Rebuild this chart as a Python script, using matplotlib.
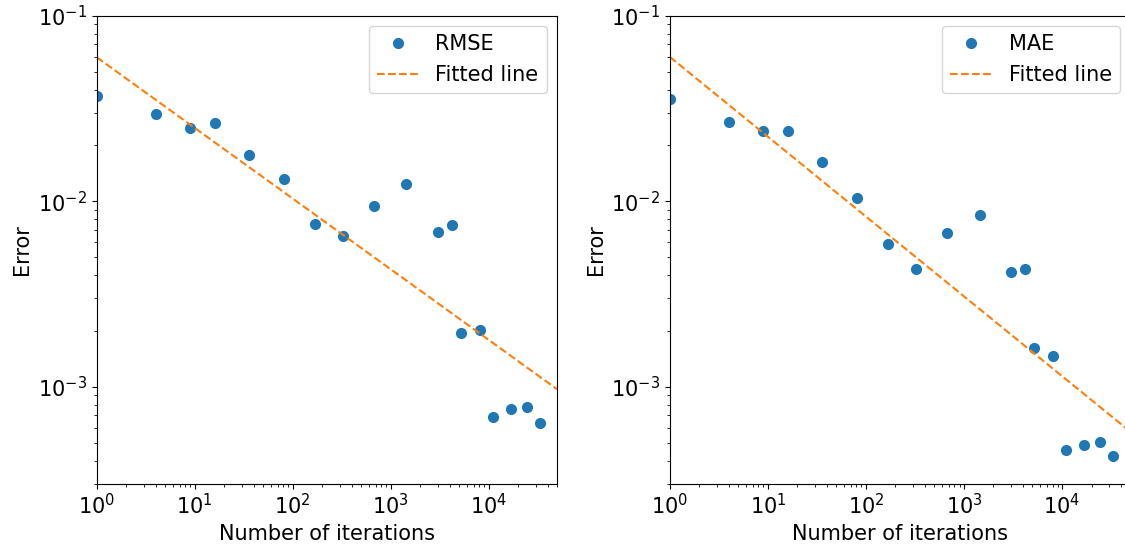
import numpy as np
import matplotlib
matplotlib.use("Agg")
import matplotlib.pyplot as plt

plt.rcParams['font.size'] = 15

# iteration counts shared by both error curves
iterations = [1, 4, 9, 16, 36, 81, 169, 324, 676, 1444, 3025, 4225,
              5184, 8100, 11025, 16900, 24649, 33124]

rmse = [0.0368, 0.0296, 0.0249, 0.0264, 0.0178, 0.0131, 0.00757, 0.0065,
        0.00937, 0.01236, 0.00682, 0.00744, 0.00196, 0.00201, 0.000689,
        0.00076, 0.00078, 0.000637]

mae = [0.0356, 0.0268, 0.0238, 0.0238, 0.0163, 0.0104, 0.00591, 0.00429,
       0.00673, 0.00838, 0.00416, 0.00429, 0.00162, 0.00146, 0.000457,
       0.000484, 0.000506, 0.000425]

# power-law fits: error = coef * n ** slope
rmse_fit = (0.0597, -0.381)
mae_fit = (0.0599, -0.430)

x_range = (1, 5e4)
y_range = (3e-4, 1e-1)


def draw_panel(ax, errors, fit, label):
    ax.plot(iterations, errors, 'o', color='C0', markersize=7, label=label)
    xs = np.logspace(np.log10(x_range[0]), np.log10(x_range[1]), 200)
    ax.plot(xs, fit[0] * xs ** fit[1], '--', color='C1', lw=1.5,
            label='Fitted line')
    ax.set_xscale('log')
    ax.set_yscale('log')
    ax.set_xlim(*x_range)
    ax.set_ylim(*y_range)
    ax.set_xlabel('Number of iterations')
    ax.set_ylabel('Error')
    ax.legend(loc='upper right')


fig = plt.figure(figsize=(11.25, 5.48), dpi=100)
ax1 = fig.add_axes([0.0860, 0.1173, 0.4094, 0.854])
ax2 = fig.add_axes([0.5955, 0.1173, 0.4094, 0.854])

draw_panel(ax1, rmse, rmse_fit, 'RMSE')
draw_panel(ax2, mae, mae_fit, 'MAE')

fig.savefig('out.png', dpi=100)
